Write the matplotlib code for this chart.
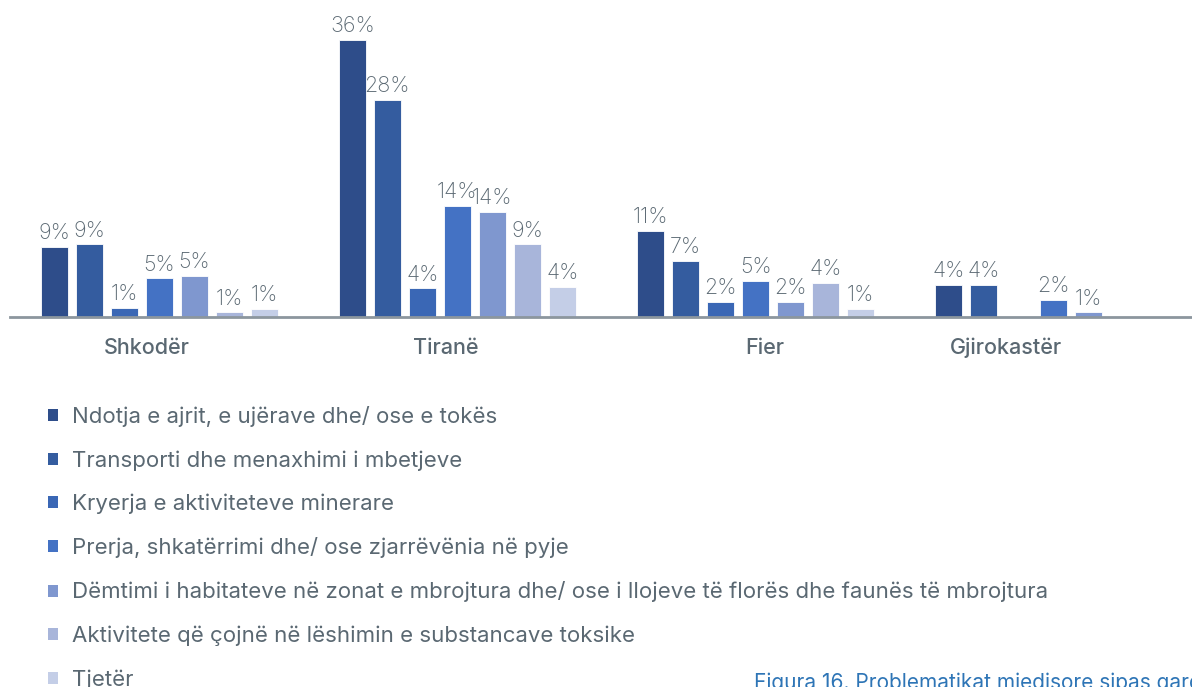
import numpy as np
import matplotlib
matplotlib.use("Agg")
import matplotlib.pyplot as plt
from matplotlib.patches import Patch

plt.rcParams['font.family'] = ['Inter', 'DejaVu Sans']

cities = ["Shkodër", "Tiranë", "Fier", "Gjirokastër"]
series = [
    "Ndotja e ajrit, e ujërave dhe/ ose e tokës",
    "Transporti dhe menaxhimi i mbetjeve",
    "Kryerja e aktiviteteve minerare",
    "Prerja, shkatërrimi dhe/ ose zjarrëvënia në pyje",
    "Dëmtimi i habitateve në zonat e mbrojtura dhe/ ose i llojeve të florës dhe faunës të mbrojtura",
    "Aktivitete që çojnë në lëshimin e substancave toksike",
    "Tjetër",
]
# values per city (percent), None = no bar
shkoder = [9.1, 9.4, 1.2, 5.0, 5.3, 0.6, 1.0]
tirane = [35.9, 28.1, 3.7, 14.4, 13.6, 9.4, 3.9]
fier = [11.1, 7.3, 1.9, 4.7, 1.9, 4.4, 1.0]
gjirokaster = [4.1, 4.1, None, 2.2, 0.6, None, None]
data = [shkoder, tirane, fier, gjirokaster]

colors = ["#2E4D8A", "#345C9F", "#3A67B5", "#4472C4", "#7F97CF", "#A8B5DA", "#C4CEE7"]
txt = "#5A6872"

fig = plt.figure(figsize=(11.92, 6.87), dpi=100)
ax = fig.add_axes([10/1192, 370/687, 1193/1192, 317/687])

pitch = 35/298.3
width = 27/298.3
x = np.arange(len(cities))
for j in range(len(series)):
    off = (j - 3) * pitch
    for i, vals in enumerate(data):
        v = vals[j]
        if v is None:
            continue
        ax.bar(x[i] + off, v, width, color=colors[j], edgecolor="white", linewidth=0.6)
        ax.text(x[i] + off, v + 0.5, f"{v:.0f}%", ha="center", va="bottom",
                fontsize=15.5, color=txt, fontweight="light")

ax.set_xlim(-0.5, 3.5)
ax.set_ylim(0, 317/7.72)
for s in ["top", "left", "right"]:
    ax.spines[s].set_visible(False)
ax.spines["bottom"].set_color("#8C969E")
ax.spines["bottom"].set_linewidth(2)
ax.set_yticks([])
label_shift = [-0.04, -0.04, 0.03, -0.16]
ax.set_xticks(x + np.array(label_shift))
ax.set_xticklabels(cities, fontsize=15.5, color=txt, fontweight="medium")
ax.tick_params(axis="x", length=0, pad=15)

handles = [Patch(facecolor=c, edgecolor="none") for c in colors]
fig.legend(handles, series, loc="upper left", bbox_to_anchor=(48/1192, 1 - 406/687),
           frameon=False, fontsize=16, labelcolor=txt, handlelength=0.45,
           handleheight=0.45, handletextpad=0.63, labelspacing=1.04, borderpad=0,
           borderaxespad=0)

fig.text(754/1192, -6/687, "Figura 16. Problematikat mjedisore sipas qarqeve",
         color="#2E75B6", fontsize=15, va="bottom", ha="left")

fig.savefig("out.png", dpi=100)
